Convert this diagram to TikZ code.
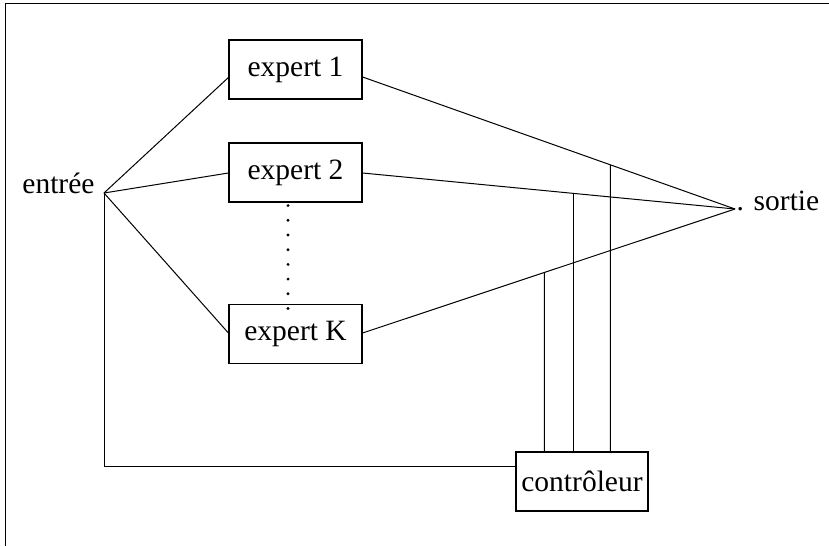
\documentclass[tikz,border=0pt]{standalone}
\usepackage{fontspec}
\setmainfont{Liberation Serif}
\usetikzlibrary{calc}
\begin{document}
\begin{tikzpicture}[x=1pt,y=-1pt,line width=1pt,
  every node/.style={font=\fontsize{29.5}{34}\selectfont},
  box/.style={draw,line width=1.2pt,minimum width=133pt,minimum height=59pt,inner sep=0pt},
  link/.style={line width=1pt},
  dotline/.style={line width=3.2pt,dash pattern=on 0pt off 14.7pt,line cap=round}]
\useasboundingbox (0,0) rectangle (829,546);
\draw (5,546) -- (5,3) -- (829,3);
% nodes
\node[box] (e1) at (295.5,69.5) {expert 1};
\node[box] (e2) at (295.5,172.5) {expert 2};
\node[box] (eK) at (295.5,334) {expert K};
\node[box,minimum width=132pt] (ctrl) at (582,481.5) {contrôleur};
\coordinate (in) at (104,193);
\coordinate (out) at (735,209);
\node[anchor=base east,inner sep=0pt] (inlab) at (95,193) {entrée};
\node[anchor=base west,inner sep=0pt] (outlab) at (736,210) {. sortie};
% anchor points
\coordinate (e1l) at ([yshift=-8pt]e1.west);
\coordinate (e1r) at ([yshift=-7.5pt]e1.east);
\coordinate (e2l) at ([yshift=-0.5pt]e2.west);
\coordinate (e2r) at ([yshift=-0.5pt]e2.east);
\coordinate (eKl) at ([yshift=1pt]eK.west);
\coordinate (eKr) at ([yshift=1pt]eK.east);
% input links
\draw[link] (in) -- (e1l);
\draw[link] (in) -- (e2l);
\draw[link] (in) -- (eKl);
% output links
\draw[link] (e1r) -- (out);
\draw[link] (e2r) -- (out);
\draw[link] (eKr) -- (out);
% dots between expert 2 and expert K
\draw[dotline] ([xshift=-7.5pt,yshift=-3pt]e2.south) -- ([xshift=-7.5pt,yshift=-9pt]eK.north);
% input to controller
\coordinate (cin) at ([yshift=15.5pt]ctrl.west);
\draw[link] (in) |- (cin);
% controller to gates
\coordinate (v1b) at ($(ctrl.north west)+(29,0)$);
\coordinate (v1t) at ($(ctrl.north west)+(29,-400)$);
\coordinate (v2b) at ($(ctrl.north west)+(58,0)$);
\coordinate (v2t) at ($(ctrl.north west)+(58,-400)$);
\coordinate (v3b) at ($(ctrl.north west)+(95,0)$);
\coordinate (v3t) at ($(ctrl.north west)+(95,-400)$);
\draw[link] (v1b) -- (intersection of v1b--v1t and eKr--out);
\draw[link] (v2b) -- (intersection of v2b--v2t and e2r--out);
\draw[link] (v3b) -- (intersection of v3b--v3t and e1r--out);
\end{tikzpicture}
\end{document}
